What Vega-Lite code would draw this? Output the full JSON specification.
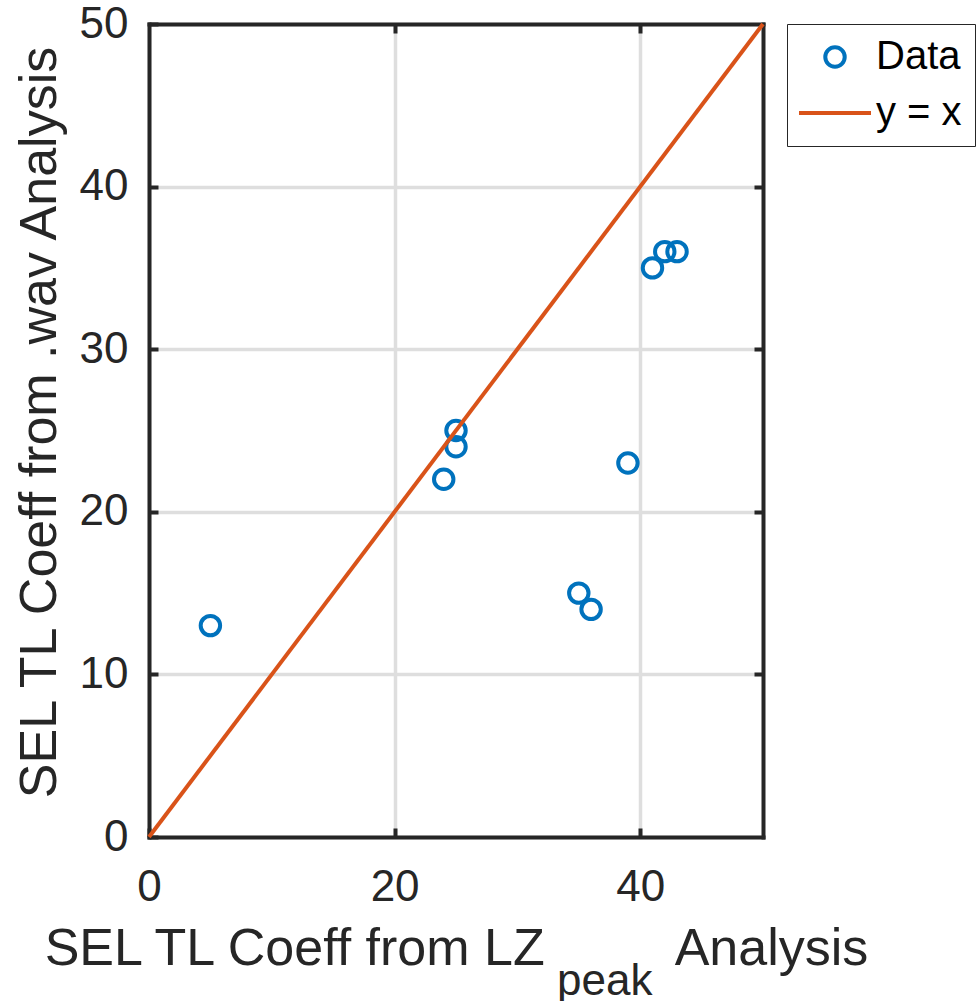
{
  "$schema": "https://vega.github.io/schema/vega-lite/v6.json",
  "width": 614,
  "height": 813,
  "autosize": {"type": "none"},
  "padding": {"left": 149, "top": 24, "right": 214, "bottom": 164},
  "background": "white",
  "title": {
    "text": "peak",
    "orient": "bottom",
    "anchor": "start",
    "frame": "group",
    "dx": 408,
    "offset": 0,
    "dy": -14,
    "font": "Liberation Sans",
    "fontSize": 44,
    "fontWeight": "normal",
    "color": "#262626"
  },
  "config": {
    "view": {"stroke": null},
    "font": "Liberation Sans",
    "axis": {
      "labelFont": "Liberation Sans",
      "labelFontSize": 44,
      "labelColor": "#262626",
      "labelFlush": false,
      "titleFont": "Liberation Sans",
      "titleFontSize": 52,
      "titleFontWeight": "normal",
      "titleColor": "#262626",
      "domainColor": "#262626",
      "domainWidth": 4,
      "domainCap": "square",
      "tickColor": "#262626",
      "tickWidth": 4,
      "tickSize": -9,
      "gridColor": "#dedede",
      "gridWidth": 3.5,
      "gridOpacity": 1
    },
    "legend": {
      "orient": "none",
      "legendX": 638,
      "legendY": 0,
      "labelFont": "Liberation Sans",
      "labelFontSize": 40,
      "labelColor": "#000000",
      "strokeColor": "#262626",
      "fillColor": "white",
      "padding": 13,
      "symbolSize": 1296,
      "symbolStrokeWidth": 4,
      "symbolOffset": 15,
      "labelOffset": 21,
      "rowPadding": 16
    }
  },
  "datasets": {
    "pts": [
      {"lz": 5, "wav": 13, "series": "Data"},
      {"lz": 24, "wav": 22, "series": "Data"},
      {"lz": 25, "wav": 25, "series": "Data"},
      {"lz": 25, "wav": 24, "series": "Data"},
      {"lz": 35, "wav": 15, "series": "Data"},
      {"lz": 36, "wav": 14, "series": "Data"},
      {"lz": 39, "wav": 23, "series": "Data"},
      {"lz": 41, "wav": 35, "series": "Data"},
      {"lz": 42, "wav": 36, "series": "Data"},
      {"lz": 43, "wav": 36, "series": "Data"}
    ],
    "ref": [
      {"lz": 0, "wav": 0, "series": "y = x"},
      {"lz": 50, "wav": 50, "series": "y = x"}
    ]
  },
  "layer": [
    {
      "data": {"name": "pts"},
      "mark": {"type": "point", "filled": false, "strokeWidth": 4, "size": 1296, "opacity": 1},
      "encoding": {
        "x": {
          "field": "lz", "type": "quantitative",
          "scale": {"domain": [0, 50], "nice": false, "zero": false},
          "axis": {
            "orient": "bottom", "values": [0, 20, 40], "grid": true,
            "labelPadding": 37, "titlePadding": 14,
            "title": "SEL TL Coeff from LZ\u00a0\u00a0\u00a0\u00a0\u00a0\u00a0\u00a0\u00a0\u00a0Analysis"
          }
        },
        "y": {
          "field": "wav", "type": "quantitative",
          "scale": {"domain": [0, 50], "nice": false, "zero": false},
          "axis": {
            "orient": "left", "values": [0, 10, 20, 30, 40, 50], "grid": true,
            "labelPadding": 30, "titlePadding": 13, "titleY": 398,
            "title": "SEL TL Coeff from .wav Analysis"
          }
        },
        "color": {
          "field": "series", "type": "nominal",
          "scale": {"domain": ["Data", "y = x"], "range": ["#0072BD", "#D95319"]},
          "legend": {"title": null, "encode": {"legend": {"update": {"strokeWidth": {"value": 3}}}}}
        },
        "shape": {
          "field": "series", "type": "nominal",
          "scale": {"domain": ["Data", "y = x"], "range": ["M-0.54,0A0.54,0.54,0,1,1,0.54,0A0.54,0.54,0,1,1,-0.54,0Z", "M-2,0L2,0"]},
          "legend": {"title": null, "encode": {"legend": {"update": {"strokeWidth": {"value": 3}}}}}
        }
      }
    },
    {
      "data": {"name": "ref"},
      "mark": {"type": "line", "strokeWidth": 4},
      "encoding": {
        "x": {"field": "lz", "type": "quantitative", "axis": null},
        "y": {"field": "wav", "type": "quantitative", "axis": null},
        "color": {"field": "series", "type": "nominal"}
      }
    },
    {
      "data": {"name": "pts"},
      "mark": {"type": "point", "opacity": 0},
      "encoding": {
        "x": {
          "field": "lz", "type": "quantitative",
          "axis": {"orient": "top", "values": [20, 40], "labels": false, "title": null, "grid": false}
        },
        "y": {
          "field": "wav", "type": "quantitative",
          "axis": {"orient": "right", "values": [10, 20, 30, 40], "labels": false, "title": null, "grid": false}
        }
      }
    }
  ],
  "resolve": {"axis": {"x": "independent", "y": "independent"}}
}
